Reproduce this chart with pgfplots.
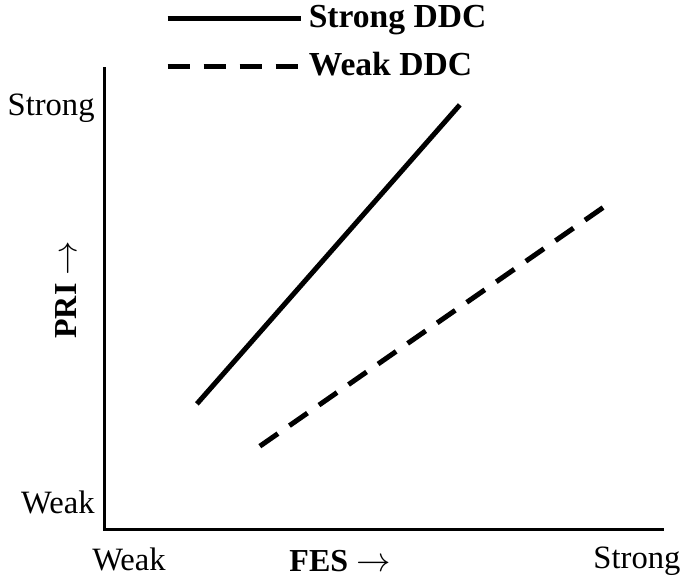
\documentclass[border=0pt]{standalone}
\usepackage{pgfplots}
\pgfplotsset{compat=1.18}
\usepackage{fontspec}
\setmainfont{Liberation Serif}
\begin{document}
\fontsize{16bp}{19bp}\selectfont
\begin{tikzpicture}
\begin{axis}[
  at={(0,0)}, anchor=origin,
  scale only axis, width=278.5bp, height=230bp,
  xmin=0, xmax=10, ymin=0, ymax=10,
  clip=false,
  axis x line=bottom, axis y line=left,
  axis line style={-, line width=1.5bp, line cap=rect},
  xtick={0.43,9.55}, xticklabels={Weak,Strong},
  ytick={0.57,9.15}, yticklabels={Weak,Strong},
  major tick length=0pt,
  tick label style={font=\fontsize{16.3bp}{19bp}\selectfont, inner sep=0pt},
  xticklabel style={anchor=north, yshift=-9bp},
  yticklabel style={anchor=east, xshift=-5bp},
  legend image code/.code={\draw[#1] (0bp,0bp) -- (66.5bp,0bp);},
  legend cell align=left,
  legend style={draw=none, fill=none, at={(0.108,1)}, anchor=north west, yshift=32bp,
    inner sep=0pt, outer sep=0pt, row sep=10.3bp, column sep=0pt,
    font=\fontsize{16.8bp}{19bp}\selectfont\bfseries,
    nodes={inner sep=0pt, outer sep=0pt}},
]
\addplot[black, line width=2.5bp, line cap=butt] coordinates {(1.65,2.72) (6.37,9.22)};
\addlegendentry{\,Strong DDC}
\addplot[black, line width=2.5bp, line cap=butt, dash pattern=on 11bp off 7bp] coordinates {(2.78,1.80) (8.98,7.02)};
\addlegendentry{\,Weak DDC}
\node[anchor=base, yshift=-21bp] at (axis cs:4.22,0) {\textbf{FES} $\rightarrow$};
\node[xshift=-19.5bp, rotate=90, anchor=center] at (axis cs:0,5.2) {\textbf{PRI} $\rightarrow$};
\end{axis}
\pgfresetboundingbox
\useasboundingbox (-52.5bp,-24.5bp) rectangle (290bp,264.5bp);
\end{tikzpicture}
\end{document}
